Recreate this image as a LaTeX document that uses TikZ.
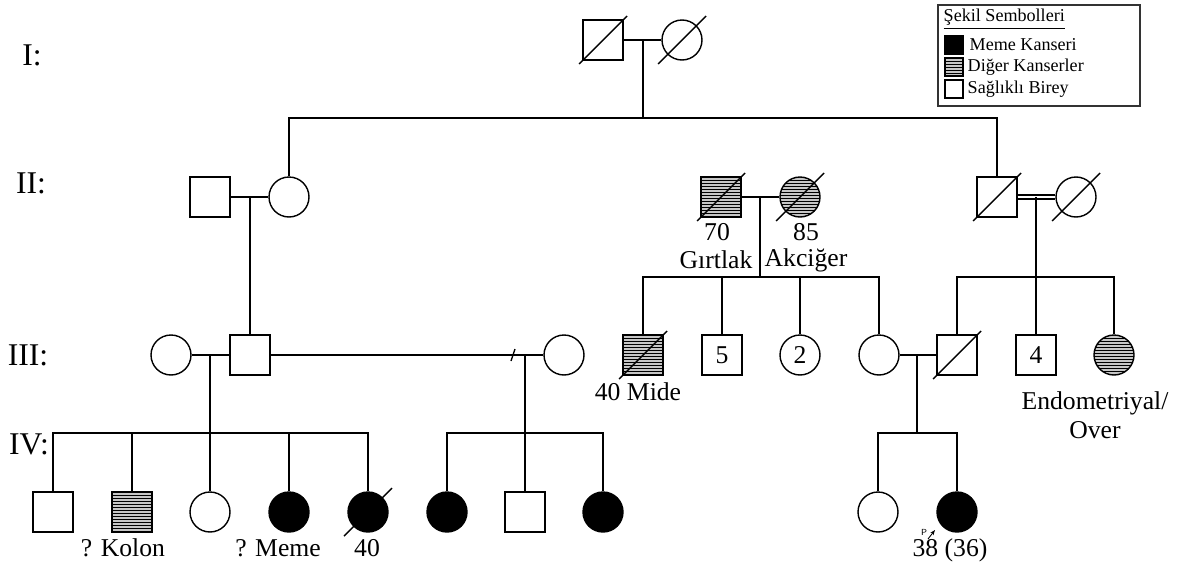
\documentclass[tikz,border=0pt]{standalone}
\usepackage{fontspec}
\setmainfont{Liberation Serif}
\usetikzlibrary{arrows.meta}

\tikzset{
	male/.style = {draw, rectangle, minimum size=0.8cm, inner sep=0pt},
	female/.style = {draw, circle, minimum size=0.8cm, inner sep=0pt},
	sick/.style = {fill=black},
	hatch/.style = {fill=gray!45, path picture={
		\foreach \k in {1,...,13}
			\draw[line width=.5pt] ([yshift=-\k*1.75pt]path picture bounding box.north west) -- ++(1.2cm,0);}},
	small/.style = {minimum size=0.36cm},
	genlabel/.style = {font=\fontsize{18}{20}\selectfont}
}
\newcommand{\deceased}[1]{\draw (#1) ++(-24,24) -- ++(48,-48);}

\begin{document}
\begin{tikzpicture}[x=0.02cm, y=-0.02cm, line width=0.8pt, font=\fontsize{14.6}{16}\selectfont]
		\useasboundingbox (0,0) rectangle (1187,568);
		% generation labels
		\node[genlabel] (gI) at (32,55) {I:};
		\node[genlabel] (gII) at (31,183) {II:};
		\node[genlabel] (gIII) at (28,355) {III:};
		\node[genlabel] (gIV) at (29,444) {IV:};
		% legend
		\begin{scope}[font=\fontsize{10.3}{12}\selectfont]
			\draw[line width=0.6pt, black!80] (938,5) rectangle (1140,106);
			\node[anchor=west, inner sep=0pt] (ltitle) at (943,19) {\underline{Şekil Sembolleri}};
			\node[male, small, sick] (lk) at (954,45) {};
			\node[male, small, hatch] (ld) at (954,67) {};
			\node[male, small] (ls) at (954,89) {};
			\node[anchor=west, inner sep=0pt] (lkt) at (969,45) {Meme Kanseri};
			\node[anchor=west, inner sep=0pt] (ldt) at (967,67) {Diğer Kanserler};
			\node[anchor=west, inner sep=0pt] (lst) at (967,89) {Sağlıklı Birey};
		\end{scope}
		% I
		\node[male] (I1) at (603,40) {};
		\node[female] (I2) at (682,40) {};
		\deceased{I1} \deceased{I2}
		\draw (I1) -- (I2);
		\coordinate (m1) at (643,40);
		\coordinate (s1) at (643,118);
		\draw (m1) -- (s1);
		% II
		\node[male] (II1) at (210,197) {};
		\node[female] (II2) at (289,197) {};
		\node[male, hatch] (II3) at (721,197) {};
		\node[female, hatch] (II4) at (800,197) {};
		\node[male] (II5) at (997,197) {};
		\node[female] (II6) at (1076,197) {};
		\deceased{II3} \deceased{II4} \deceased{II5} \deceased{II6}
		\draw (II2.north) |- (s1) -| (II5.north);
		\draw (II1) -- (II2);
		\draw (II3) -- (II4);
		\draw[double, double distance=1.4pt] (II5) -- (II6);
		\node (a70) at (717,232) {70};
		\node (a85) at (806,232) {85};
		\node (tg) at (716,260) {Gırtlak};
		\node (ta) at (806,260) {Akciğer};
		% III
		\node[female] (III1) at (171,355) {};
		\node[male] (III2) at (250,355) {};
		\node[female] (III3) at (564,355) {};
		\node[male, hatch] (III4) at (643,355) {};
		\node[male] (III5) at (722,355) {5};
		\node[female] (III6) at (800,355) {2};
		\node[female] (III7) at (879,355) {};
		\node[male] (III8) at (957,355) {};
		\node[male] (III9) at (1036,355) {4};
		\node[female, hatch] (III10) at (1114,355) {};
		\deceased{III4} \deceased{III8}
		\coordinate (m2) at (250,197);
		\draw (m2) -- (III2.north);
		\coordinate (m3) at (760,197);
		\coordinate (s3) at (760,277);
		\draw (m3) -- (s3);
		\draw (III4.north) |- (s3) -| (III7.north);
		\draw (III5.north) -- (III5.north |- s3);
		\draw (III6.north) -- (III6.north |- s3);
		\coordinate (m4) at (1036,197);
		\coordinate (s4) at (1036,277);
		\draw (m4) -- (s4);
		\draw (III8.north) |- (s4) -| (III10.north);
		\draw (s4) -- (III9.north);
		\draw (III1) -- (III2);
		\draw (III2) -- (III3);
		\draw (III7) -- (III8);
		\draw (511,361) -- (515,349);
		\node (tm) at (638,392) {40 Mide};
		\node (te) at (1095,403) {Endometriyal/};
		\node (to) at (1095,430) {Over};
		% IV
		\node[male] (IV1) at (53,512) {};
		\node[male, hatch] (IV2) at (132,512) {};
		\node[female] (IV3) at (210,512) {};
		\node[female, sick] (IV4) at (289,512) {};
		\node[female, sick] (IV5) at (368,512) {};
		\node[female, sick] (IV6) at (447,512) {};
		\node[male] (IV7) at (525,512) {};
		\node[female, sick] (IV8) at (603,512) {};
		\node[female] (IV9) at (878,512) {};
		\node[female, sick] (IV10) at (957,512) {};
		\deceased{IV5}
		\coordinate (m5) at (210,355);
		\coordinate (s5) at (210,433);
		\draw (m5) -- (s5);
		\draw (IV1.north) |- (s5) -| (IV5.north);
		\draw (s5) -- (IV3.north);
		\draw (IV2.north) -- (IV2.north |- s5);
		\draw (IV4.north) -- (IV4.north |- s5);
		\coordinate (m6) at (525,355);
		\coordinate (s6) at (525,433);
		\draw (m6) -- (s6);
		\draw (IV6.north) |- (s6) -| (IV8.north);
		\draw (s6) -- (IV7.north);
		\coordinate (m7) at (917,355);
		\coordinate (s7) at (917,433);
		\draw (m7) -- (s7);
		\draw (IV9.north) |- (s7) -| (IV10.north);
		\node (tk) at (123,548) {? Kolon};
		\node (tmm) at (278,548) {? Meme};
		\node (t40) at (367,548) {40};
		\node[inner sep=0pt] (t38) at (950,550) {38 (36)};
		\node[font=\fontsize{5}{5}\selectfont\sffamily, inner sep=0pt] (pr) at (924,532) {P};
		\coordinate (pa) at (928,539);
		\coordinate (pb) at (935,530);
		\draw[line width=0.5pt, -{Stealth[length=3pt]}] (pa) -- (pb);
	\end{tikzpicture}
\end{document}
